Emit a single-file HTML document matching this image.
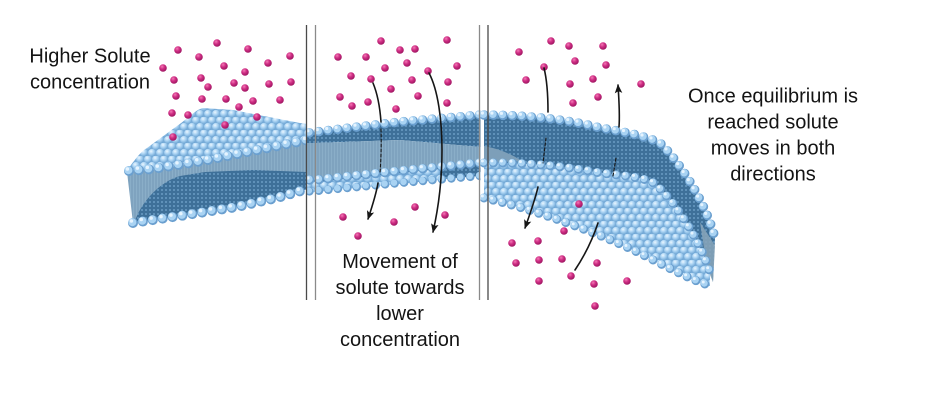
<!DOCTYPE html>
<html><head><meta charset="utf-8"><style>
html,body{margin:0;padding:0;background:#fff;}
svg{display:block;}
text{font-family:"Liberation Sans",Arial,sans-serif;font-size:20px;fill:#141414;}
</style></head><body>
<svg width="951" height="403" viewBox="0 0 951 403" xmlns="http://www.w3.org/2000/svg">
<defs>
  <radialGradient id="bg" cx="38%" cy="32%" r="70%">
    <stop offset="0" stop-color="#eaf6ff"/>
    <stop offset="0.45" stop-color="#add5f4"/>
    <stop offset="1" stop-color="#6aa2d2"/>
  </radialGradient>
  <radialGradient id="pk" cx="38%" cy="32%" r="70%">
    <stop offset="0" stop-color="#f47ab6"/>
    <stop offset="0.45" stop-color="#cf2e84"/>
    <stop offset="1" stop-color="#9c1560"/>
  </radialGradient>
  <pattern id="beads" width="8" height="13" patternUnits="userSpaceOnUse">
    <rect width="8" height="13" fill="#78acd8"/>
    <circle cx="4" cy="3.25" r="3.9" fill="url(#bg)"/>
    <circle cx="0" cy="9.75" r="3.9" fill="url(#bg)"/>
    <circle cx="8" cy="9.75" r="3.9" fill="url(#bg)"/>
  </pattern>
  <pattern id="tails" width="4" height="4" patternUnits="userSpaceOnUse">
    <rect width="4" height="4" fill="#3e7099"/>
    <circle cx="2" cy="2" r="1" fill="#6a9cc4"/>
  </pattern>
  <pattern id="wall" width="3" height="6" patternUnits="userSpaceOnUse">
    <rect width="3" height="6" fill="#7fa3bf"/>
    <rect x="1" width="0.8" height="6" fill="#8db0ca"/>
  </pattern>
  <marker id="ah" viewBox="0 0 10 10" refX="9" refY="5" markerWidth="9" markerHeight="9" orient="auto" markerUnits="userSpaceOnUse">
    <path d="M0,0.8 L10,5 L0,9.2 L2.2,5 Z" fill="#161616"/>
  </marker>
  <clipPath id="cL"><rect x="0" y="0" width="306.5" height="403"/></clipPath>
  <clipPath id="cM"><rect x="306.5" y="0" width="174" height="403"/></clipPath>
  <clipPath id="cR"><rect x="480.5" y="0" width="470" height="403"/></clipPath>

  <path id="pLfront" d="M129,171 L153,169 L203,161 L253,151 L308,140"/>
  <path id="pLbot" d="M133,223 L187,215 L237,207 L277,198 L308,189"/>
  <path id="pMtop" d="M300,134 L316,132 L400,122 L480,115 L492,114"/>
  <path id="pMlow" d="M300,180 L316,180 L400,171 L480,163 L492,162"/>
  <path id="pMbot" d="M300,192 L316,191 L400,183 L480,176 L492,175"/>
  <path id="pRtop" d="M484,115 C530,115 575,121 600,128 C625,132 645,136 660,143 C678,160 705,200 715,238"/>
  <path id="pRfront" d="M484,163 C530,162 575,168 600,173 C625,176 640,177 652,182 C672,196 700,240 710,272"/>
  <path id="pRbot" d="M484,198 C530,208 595,232 633,250 C660,263 688,279 708,285"/>
</defs>

<rect width="951" height="403" fill="#fff"/>

<g clip-path="url(#cM)">
  <polygon points="300,134 316,132 400,122 480,115 492,114 492,147 480,147 400,140 316,143 300,143" fill="url(#tails)"/>
  <polygon points="300,143 316,143 400,140 480,147 492,147 492,162 480,163 400,171 316,180 300,180" fill="url(#wall)"/>
  <polygon points="300,180 316,180 400,171 480,163 492,162 492,176 480,176 400,183 316,191 300,192" fill="url(#tails)"/>
  <polygon points="300,182 316,182 400,173 440,169 440,180 400,184 316,192 300,193" fill="url(#beads)"/>
  <g fill="none" stroke-linecap="round" stroke-dasharray="0 9.5">
    <use href="#pMbot" stroke="#6a9fcf" stroke-width="8.5"/>
    <use href="#pMbot" stroke="#a9d3f3" stroke-width="6.5" transform="translate(-0.6,-0.8)"/>
    <use href="#pMlow" stroke="#6a9fcf" stroke-width="9.5"/>
    <use href="#pMlow" stroke="#a9d3f3" stroke-width="7.5" transform="translate(-0.6,-0.8)"/>
    <use href="#pMlow" stroke="#e6f4ff" stroke-width="3.2" transform="translate(-1.6,-2)"/>
    <use href="#pMtop" stroke="#6a9fcf" stroke-width="9.5"/>
    <use href="#pMtop" stroke="#a9d3f3" stroke-width="7.5" transform="translate(-0.6,-0.8)"/>
    <use href="#pMtop" stroke="#e6f4ff" stroke-width="3.2" transform="translate(-1.6,-2)"/>
  </g>
</g>

<g clip-path="url(#cL)">
  <path d="M127,172 L153,170 L203,162 L253,152 L308,141 L308,189 L277,198 L237,207 L187,215 L133,223 Z" fill="url(#wall)"/>
  <path d="M135,221 C140,205 158,182 180,176 L205,172 L253,170 L308,172 L308,189 L277,198 L237,207 L187,215 L133,223 Z" fill="url(#tails)"/>
  <path d="M127,170 C135,160 140,152 147,148 L177,126 C190,117 195,110 203,108 L233,110 L300,123 L308,124 L308,141 L253,152 L203,162 L153,170 L127,172 Z" fill="url(#beads)"/>
  <g fill="none" stroke-linecap="round" stroke-dasharray="0 10">
    <use href="#pLbot" stroke="#6a9fcf" stroke-width="10"/>
    <use href="#pLbot" stroke="#a9d3f3" stroke-width="8" transform="translate(-0.6,-0.8)"/>
    <use href="#pLbot" stroke="#e6f4ff" stroke-width="3.5" transform="translate(-1.6,-2)"/>
    <use href="#pLfront" stroke="#6a9fcf" stroke-width="10"/>
    <use href="#pLfront" stroke="#a9d3f3" stroke-width="8" transform="translate(-0.6,-0.8)"/>
    <use href="#pLfront" stroke="#e6f4ff" stroke-width="3.5" transform="translate(-1.6,-2)"/>
  </g>
</g>

<g clip-path="url(#cR)">
  <path d="M484,115 C530,115 575,121 600,128 C625,132 645,136 660,143 C678,160 705,200 715,238 L713,282 L710,272 C700,240 672,196 652,182 C640,177 625,176 600,173 C575,168 530,162 484,163 Z" fill="url(#tails)"/>
  <path d="M484,146 C495,148 508,152 522,161 L484,163 Z" fill="#7d9fb9"/>
  <path d="M700,222 C706,232 712,240 715,246 L713,282 L707,268 Z" fill="#8aa6ba" opacity="0.85"/>
  <path d="M484,163 C530,162 575,168 600,173 C625,176 640,177 652,182 C672,196 700,240 710,272 L710,286 C688,279 660,263 633,250 C595,232 530,208 484,198 Z" fill="url(#beads)"/>
  <g fill="none" stroke-linecap="round" stroke-dasharray="0 9.5">
    <use href="#pRbot" stroke="#6a9fcf" stroke-width="9"/>
    <use href="#pRbot" stroke="#a9d3f3" stroke-width="7" transform="translate(-0.6,-0.8)"/>
    <use href="#pRbot" stroke="#e6f4ff" stroke-width="3" transform="translate(-1.6,-2)"/>
    <use href="#pRfront" stroke="#6a9fcf" stroke-width="9"/>
    <use href="#pRfront" stroke="#a9d3f3" stroke-width="7" transform="translate(-0.6,-0.8)"/>
    <use href="#pRfront" stroke="#e6f4ff" stroke-width="3" transform="translate(-1.6,-2)"/>
    <use href="#pRtop" stroke="#6a9fcf" stroke-width="9.5"/>
    <use href="#pRtop" stroke="#a9d3f3" stroke-width="7.5" transform="translate(-0.6,-0.8)"/>
    <use href="#pRtop" stroke="#e6f4ff" stroke-width="3.2" transform="translate(-1.6,-2)"/>
  </g>
</g>

<g stroke-width="1.3">
  <line x1="306.5" y1="25" x2="306.5" y2="300" stroke="#4a4a4a"/>
  <line x1="315.5" y1="25" x2="315.5" y2="300" stroke="#8a8a8a"/>
  <line x1="479.5" y1="25" x2="479.5" y2="300" stroke="#8a8a8a"/>
  <line x1="488" y1="25" x2="488" y2="300" stroke="#4a4a4a"/>
</g>

<g fill="url(#pk)">
  <circle cx="178" cy="50" r="3.8"/><circle cx="217" cy="43" r="3.8"/><circle cx="248" cy="49" r="3.8"/>
  <circle cx="290" cy="56" r="3.8"/><circle cx="199" cy="57" r="3.8"/><circle cx="224" cy="66" r="3.8"/>
  <circle cx="268" cy="63" r="3.8"/><circle cx="163" cy="68" r="3.8"/><circle cx="245" cy="72" r="3.8"/>
  <circle cx="174" cy="80" r="3.8"/><circle cx="201" cy="78" r="3.8"/><circle cx="208" cy="87" r="3.8"/>
  <circle cx="234" cy="83" r="3.8"/><circle cx="245" cy="88" r="3.8"/><circle cx="269" cy="84" r="3.8"/>
  <circle cx="291" cy="82" r="3.8"/><circle cx="176" cy="96" r="3.8"/><circle cx="202" cy="99" r="3.8"/>
  <circle cx="226" cy="99" r="3.8"/><circle cx="253" cy="101" r="3.8"/><circle cx="280" cy="100" r="3.8"/>
  <circle cx="239" cy="107" r="3.8"/><circle cx="172" cy="113" r="3.8"/><circle cx="188" cy="115" r="3.8"/>
  <circle cx="257" cy="117" r="3.8"/><circle cx="225" cy="125" r="3.8"/><circle cx="173" cy="137" r="3.8"/>
  <circle cx="381" cy="41" r="3.8"/><circle cx="447" cy="40" r="3.8"/><circle cx="400" cy="50" r="3.8"/>
  <circle cx="415" cy="49" r="3.8"/><circle cx="338" cy="57" r="3.8"/><circle cx="366" cy="57" r="3.8"/>
  <circle cx="407" cy="63" r="3.8"/><circle cx="457" cy="66" r="3.8"/><circle cx="385" cy="68" r="3.8"/>
  <circle cx="428" cy="71" r="3.8"/><circle cx="351" cy="76" r="3.8"/><circle cx="371" cy="79" r="3.8"/>
  <circle cx="412" cy="80" r="3.8"/><circle cx="448" cy="82" r="3.8"/><circle cx="391" cy="89" r="3.8"/>
  <circle cx="340" cy="97" r="3.8"/><circle cx="418" cy="96" r="3.8"/><circle cx="368" cy="102" r="3.8"/>
  <circle cx="352" cy="106" r="3.8"/><circle cx="447" cy="103" r="3.8"/><circle cx="396" cy="109" r="3.8"/>
  <circle cx="415" cy="207" r="3.8"/><circle cx="445" cy="215" r="3.8"/><circle cx="343" cy="217" r="3.8"/>
  <circle cx="394" cy="222" r="3.8"/><circle cx="358" cy="236" r="3.8"/>
  <circle cx="551" cy="41" r="3.8"/><circle cx="569" cy="46" r="3.8"/><circle cx="603" cy="46" r="3.8"/>
  <circle cx="519" cy="52" r="3.8"/><circle cx="575" cy="61" r="3.8"/><circle cx="606" cy="65" r="3.8"/>
  <circle cx="544" cy="67" r="3.8"/><circle cx="526" cy="80" r="3.8"/><circle cx="593" cy="79" r="3.8"/>
  <circle cx="570" cy="84" r="3.8"/><circle cx="641" cy="84" r="3.8"/><circle cx="598" cy="97" r="3.8"/>
  <circle cx="573" cy="103" r="3.8"/>
  <circle cx="579" cy="204" r="3.8"/><circle cx="564" cy="231" r="3.8"/><circle cx="538" cy="241" r="3.8"/>
  <circle cx="512" cy="243" r="3.8"/><circle cx="539" cy="260" r="3.8"/><circle cx="562" cy="259" r="3.8"/>
  <circle cx="516" cy="263" r="3.8"/><circle cx="597" cy="263" r="3.8"/><circle cx="571" cy="276" r="3.8"/>
  <circle cx="539" cy="281" r="3.8"/><circle cx="594" cy="284" r="3.8"/><circle cx="627" cy="281" r="3.8"/>
  <circle cx="595" cy="306" r="3.8"/>
</g>

<g fill="none" stroke="#161616" stroke-width="1.6" stroke-linecap="round">
  <path d="M373,83 C378,95 380,108 381,122"/>
  <path d="M381,129 C381.5,145 381,160 380,173" stroke-width="1.1" stroke-dasharray="3 2"/>
  <path d="M378,183 C376,195 372,207 368,219" marker-end="url(#ah)"/>
  <path d="M429,73 C438,90 442,120 442,150 C442,185 438,210 433,232" marker-end="url(#ah)"/>
  <path d="M544,68 C547,80 548,98 548,112"/>
  <path d="M546,138 L543,163" stroke-width="1.1" stroke-dasharray="3 2"/>
  <path d="M538,187 C535,200 530,214 525,228" marker-end="url(#ah)"/>
  <path d="M575,270 C585,255 593,238 598,223"/>
  <path d="M613,176 L616,158" stroke-width="1.1" stroke-dasharray="3 2"/>
  <path d="M619,127 C620,114 619,100 618,85" marker-end="url(#ah)"/>
</g>

<g text-anchor="middle">
  <text x="90" y="62.5">Higher Solute</text>
  <text x="90" y="88.5">concentration</text>
  <text x="400" y="268">Movement of</text>
  <text x="400" y="294">solute towards</text>
  <text x="400" y="320">lower</text>
  <text x="400" y="346">concentration</text>
  <text x="773" y="102.5">Once equilibrium is</text>
  <text x="773" y="128.5">reached solute</text>
  <text x="773" y="154.5">moves in both</text>
  <text x="773" y="180.5">directions</text>
</g>
</svg>
</body></html>
